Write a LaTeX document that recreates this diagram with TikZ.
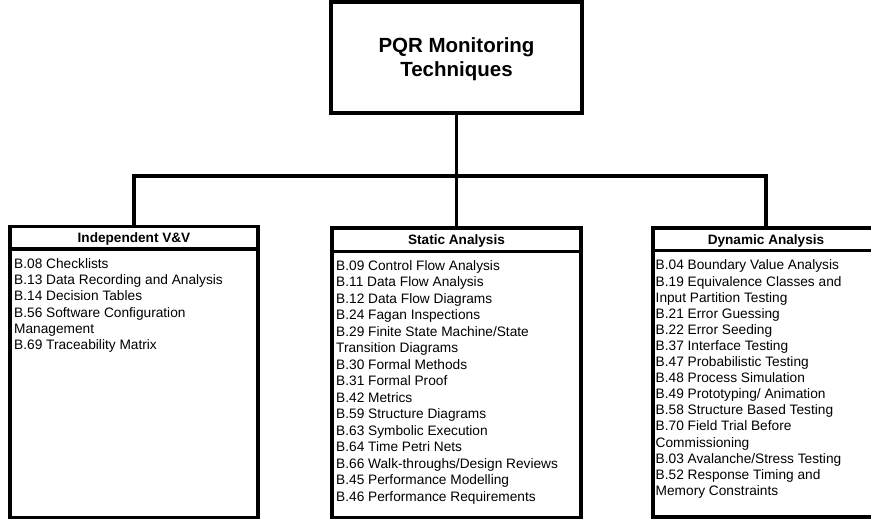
\documentclass[tikz,border=0pt]{standalone}
\usepackage{fontspec}
\setmainfont{Liberation Sans}
\begin{document}
\begin{tikzpicture}[x=1pt,y=-1pt,
  frame/.style={draw=black,line width=3.4pt,rectangle,inner sep=0pt},
  titletext/.style={font=\fontsize{20.5}{24}\selectfont\bfseries,align=center},
  hdrtext/.style={font=\fontsize{13.6}{16}\selectfont\bfseries,anchor=base,inner sep=0pt},
  bodytext/.style={align=left,anchor=north west,inner sep=0pt},
  link/.style={draw=black,line width=3.4pt}
]
\useasboundingbox (0,0) rectangle (871,519);
% title
\node[frame,minimum width=251pt,minimum height=111pt] (top) at (456.5,57.5) {};
\node[titletext] (toptext) at (456.5,59) {PQR Monitoring\\Techniques};
% category boxes
\node[frame,minimum width=248pt,minimum height=291pt] (iv) at (134,372) {};
\node[frame,minimum width=249pt,minimum height=290pt] (sa) at (456.5,373) {};
\node[frame,minimum width=236pt,minimum height=289pt] (da) at (771,372.5) {};
% header separators
\draw[line width=3.4pt] ([yshift=-24pt]iv.north west) coordinate (ivl) -- ([yshift=-24pt]iv.north east) coordinate (ivr);
\draw[line width=3.4pt] ([yshift=-25pt]sa.north west) coordinate (sal) -- ([yshift=-25pt]sa.north east) coordinate (sar);
\draw[line width=3.4pt] ([yshift=-24pt]da.north west) coordinate (dal) -- ([yshift=-24pt]da.north east) coordinate (dar);
% headers
\node[hdrtext] (ivh) at (134,242.5) {Independent V\&V};
\node[hdrtext] (sah) at (456.5,244.5) {Static Analysis};
\node[hdrtext] (dah) at (766,244) {Dynamic Analysis};
% bodies
\node[bodytext,font=\fontsize{13.7}{16.2}\selectfont] (ivb) at (14,257) {\strut B.08 Checklists\\B.13 Data Recording and Analysis\\B.14 Decision Tables\\B.56 Software Configuration\\Management\\B.69 Traceability Matrix};
\node[bodytext,font=\fontsize{13.7}{16.5}\selectfont] (sab) at (336,258.5) {\strut B.09 Control Flow Analysis\\B.11 Data Flow Analysis\\B.12 Data Flow Diagrams\\B.24 Fagan Inspections\\B.29 Finite State Machine/State\\Transition Diagrams\\B.30 Formal Methods\\B.31 Formal Proof\\B.42 Metrics\\B.59 Structure Diagrams\\B.63 Symbolic Execution\\B.64 Time Petri Nets\\B.66 Walk-throughs/Design Reviews\\B.45 Performance Modelling\\B.46 Performance Requirements};
\node[bodytext,font=\fontsize{13.7}{16.1}\selectfont] (dab) at (655.5,258.5) {\strut B.04 Boundary Value Analysis\\B.19 Equivalence Classes and\\Input Partition Testing\\B.21 Error Guessing\\B.22 Error Seeding\\B.37 Interface Testing\\B.47 Probabilistic Testing\\B.48 Process Simulation\\B.49 Prototyping/ Animation\\B.58 Structure Based Testing\\B.70 Field Trial Before\\Commissioning\\B.03 Avalanche/Stress Testing\\B.52 Response Timing and\\Memory Constraints};
% connectors
\coordinate (bus) at (456.5,176);
\coordinate (ivtop) at (134,176);
\coordinate (datop) at (766,176);
\draw[link] (top.south) -- (bus) -- (sa.north);
\draw[link,line cap=rect] (iv.north) -- (ivtop) -- (datop) -- (datop |- da.north);
\end{tikzpicture}
\end{document}
